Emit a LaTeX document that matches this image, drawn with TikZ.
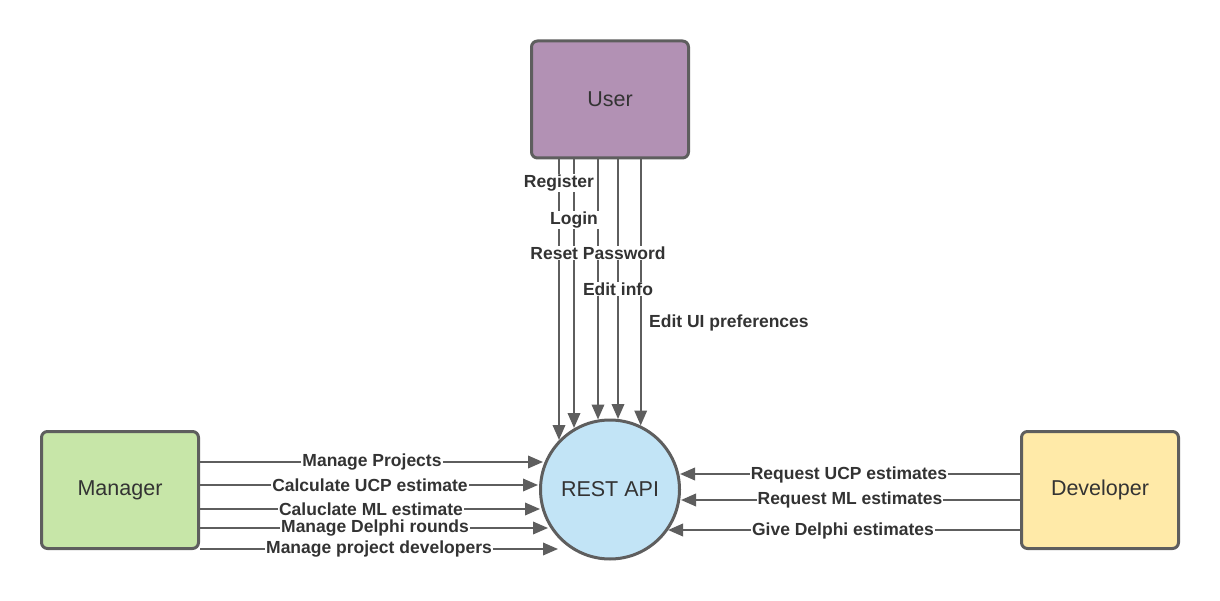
\documentclass[tikz,border=0pt]{standalone}
\usepackage{fontspec}
\setmainfont{Liberation Sans}
\usetikzlibrary{arrows.meta,calc}
\definecolor{edgec}{HTML}{5E5E5E}
\definecolor{txtc}{HTML}{333333}
\definecolor{userfill}{HTML}{B291B4}
\definecolor{mgrfill}{HTML}{C7E6A8}
\definecolor{devfill}{HTML}{FFEAA8}
\definecolor{apifill}{HTML}{C2E4F6}
\begin{document}
\begin{tikzpicture}[x=1pt,y=-1pt,
  box/.style={draw=edgec, line width=3pt, rounded corners=6pt, minimum width=157pt, minimum height=117pt, font=\fontsize{21.5}{24}\selectfont, text=txtc},
  apinode/.style={circle, draw=edgec, line width=3pt, minimum size=139pt, fill=apifill, font=\fontsize{21.5}{24}\selectfont, text=txtc},
  arr/.style={draw=edgec, line width=2pt, -{Triangle[length=15pt,width=12.5pt]}},
  lbl/.style={fill=white, inner sep=1pt, font=\bfseries\fontsize{17.5}{20}\selectfont, text=txtc}]
\useasboundingbox (0,0) rectangle (1220,601);

\node[box, fill=userfill] (user) at (610,99.5) {User};
\node[box, fill=mgrfill] (manager) at (120,490) {Manager};
\node[box, fill=devfill] (developer) at (1100,490) {Developer};
\node[apinode] (api) at (610,489.5) {REST API};

% user arrows
\coordinate (u1) at (559,440);
\coordinate (u2) at (574,428);
\coordinate (u3) at (598,419.5);
\coordinate (u4) at (618,419);
\coordinate (u5) at (640.7,425.5);
\draw[arr] ($(user.south)+(-51,0)$) -- (u1);
\draw[arr] ($(user.south)+(-36,0)$) -- (u2);
\draw[arr] ($(user.south)+(-12,0)$) -- (u3);
\draw[arr] ($(user.south)+(8,0)$) -- (u4);
\draw[arr] ($(user.south)+(30.7,0)$) -- (u5);

% manager arrows
\coordinate (m1) at (543,462);
\coordinate (m2) at (538,485);
\coordinate (m3) at (540,509);
\coordinate (m4) at (548,528);
\coordinate (m5) at (558,549);
\draw[arr] ($(manager.east)+(0,-28)$) -- (m1);
\draw[arr] ($(manager.east)+(0,-5)$) -- (m2);
\draw[arr] ($(manager.east)+(0,19)$) -- (m3);
\draw[arr] ($(manager.east)+(0,38)$) -- (m4);
\draw[arr] ($(manager.east)+(0,59)$) -- (m5);

% developer arrows
\coordinate (d1) at (680,474);
\coordinate (d2) at (681,500);
\coordinate (d3) at (668,530);
\draw[arr] ($(developer.west)+(0,-16)$) -- (d1);
\draw[arr] ($(developer.west)+(0,10)$) -- (d2);
\draw[arr] ($(developer.west)+(0,40)$) -- (d3);

% labels
\node[lbl] (lreg) at (559,183) {Register};
\node[lbl] (llog) at (574,220) {Login};
\node[lbl] (lres) at (598,253) {Reset Password};
\node[lbl] (ledi) at (618,289) {Edit info};
\node[lbl, anchor=west] (lui) at (648,323) {Edit UI preferences};

\node[lbl] (lmp) at (372,462.5) {Manage Projects};
\node[lbl] (lucp) at (370,485.5) {Calculate UCP estimate};
\node[lbl] (lml) at (371,509.5) {Caluclate ML estimate};
\node[lbl] (ldr) at (375,528.5) {Manage Delphi rounds};
\node[lbl] (lpd) at (379,549.5) {Manage project developers};

\node[lbl] (rucp) at (849,474.5) {Request UCP estimates};
\node[lbl] (rml) at (850,499.5) {Request ML estimates};
\node[lbl] (rgd) at (843,530.5) {Give Delphi estimates};
\end{tikzpicture}
\end{document}
